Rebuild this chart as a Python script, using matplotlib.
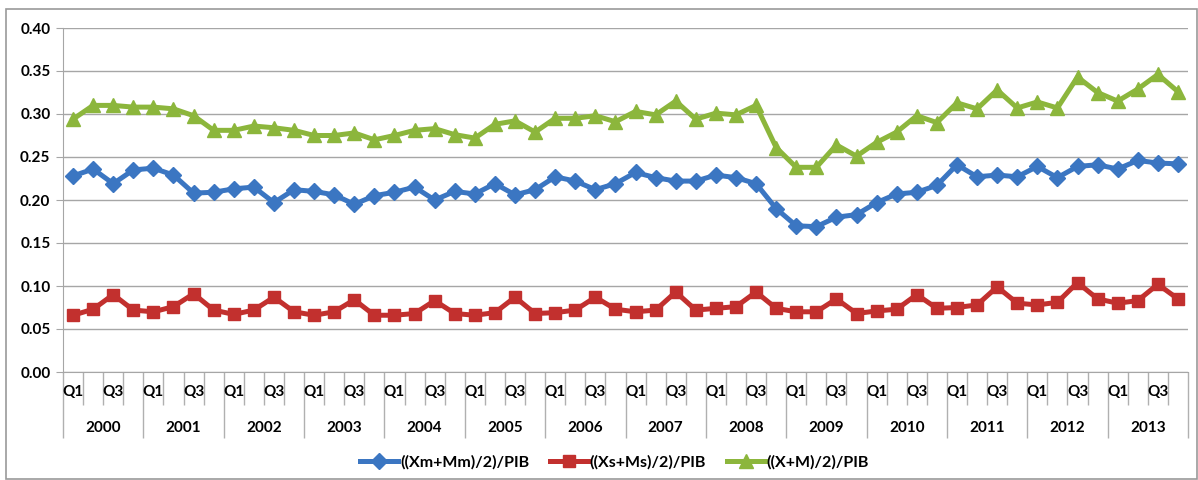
import matplotlib
matplotlib.use("Agg")
import matplotlib.pyplot as plt
from matplotlib.patches import Rectangle
from matplotlib.transforms import blended_transform_factory
import numpy as np

years = ["2000", "2001", "2002", "2003", "2004", "2005", "2006", "2007",
         "2008", "2009", "2010", "2011", "2012", "2013"]
quarters = ["Q1", "Q2", "Q3", "Q4"]
shown_quarters = ["Q1", "Q3"]

goods = [0.228, 0.236, 0.219, 0.235, 0.237, 0.229, 0.208, 0.209,
         0.213, 0.215, 0.197, 0.212, 0.210, 0.206, 0.195, 0.205,
         0.209, 0.215, 0.200, 0.210, 0.207, 0.219, 0.206, 0.212,
         0.227, 0.222, 0.212, 0.219, 0.232, 0.226, 0.222, 0.222,
         0.229, 0.226, 0.219, 0.190, 0.170, 0.169, 0.180, 0.183,
         0.197, 0.207, 0.209, 0.217, 0.241, 0.227, 0.229, 0.227,
         0.239, 0.226, 0.239, 0.241, 0.236, 0.246, 0.243, 0.242]

services = [0.066, 0.073, 0.090, 0.072, 0.070, 0.076, 0.091, 0.072,
            0.067, 0.072, 0.087, 0.070, 0.066, 0.070, 0.084, 0.066,
            0.066, 0.068, 0.083, 0.068, 0.066, 0.069, 0.087, 0.068,
            0.069, 0.072, 0.087, 0.073, 0.070, 0.072, 0.093, 0.072,
            0.074, 0.076, 0.093, 0.074, 0.070, 0.070, 0.085, 0.068,
            0.071, 0.073, 0.090, 0.074, 0.075, 0.078, 0.099, 0.080,
            0.078, 0.081, 0.104, 0.085, 0.080, 0.083, 0.102, 0.085]

total = [0.294, 0.310, 0.310, 0.308, 0.308, 0.306, 0.298, 0.281,
         0.281, 0.286, 0.284, 0.281, 0.275, 0.275, 0.278, 0.270,
         0.275, 0.281, 0.283, 0.276, 0.272, 0.288, 0.292, 0.279,
         0.295, 0.295, 0.298, 0.291, 0.303, 0.299, 0.315, 0.294,
         0.301, 0.299, 0.310, 0.261, 0.238, 0.238, 0.264, 0.251,
         0.267, 0.279, 0.298, 0.290, 0.313, 0.306, 0.328, 0.307,
         0.314, 0.307, 0.343, 0.325, 0.315, 0.329, 0.346, 0.326]

series_labels = ["((Xm+Mm)/2)/PIB", "((Xs+Ms)/2)/PIB", "((X+M)/2)/PIB"]
colors = ["#3B76C2", "#C2302E", "#8CB63C"]
markers = ["D", "s", "^"]
msizes = [8.5, 9, 10.5]

W, H = 1198, 480
fig = plt.figure(figsize=(W / 100, H / 100), dpi=100)
fig.patches.append(Rectangle((6 / W, 1 / H), (W - 7) / W, (H - 10) / H,
                             transform=fig.transFigure, fill=False,
                             edgecolor="#9a9a9a", linewidth=1.2))

left, right, top, bottom = 63, 1188, 28, 372
ax = fig.add_axes([left / W, 1 - bottom / H, (right - left) / W, (bottom - top) / H])

fontname = "Lato"
fs = 11
n = len(years) * len(quarters)
x = np.arange(n)
for vals, lab, c, m, ms in zip([goods, services, total], series_labels, colors, markers, msizes):
    ax.plot(x, vals, color=c, linewidth=3.6, marker=m, markersize=ms,
            markerfacecolor=c, markeredgecolor=c, label=lab, zorder=3)

ax.set_xlim(-0.5, n - 0.5)
ax.set_ylim(0, 0.40)
ax.set_yticks(np.arange(0, 0.401, 0.05))
ax.set_yticklabels([f"{v:.2f}" for v in np.arange(0, 0.401, 0.05)],
                   fontsize=fs, fontweight="bold", fontname=fontname)
ax.grid(axis="y", color="#a6a6a6", linewidth=1.0)
ax.set_axisbelow(True)
for s in ["top", "right"]:
    ax.spines[s].set_visible(False)
ax.spines["left"].set_color("#a6a6a6")
ax.spines["bottom"].set_color("#a6a6a6")
ax.tick_params(axis="y", length=5, color="#a6a6a6", pad=4)

# category ticks
ax.set_xticks(np.arange(-0.5, n, 4))
ax.set_xticks(np.arange(-0.5, n, 1), minor=True)
ax.set_xticklabels([])
ax.tick_params(axis="x", which="major", length=66 * 0.72, color="#b0b0b0", width=1)
ax.tick_params(axis="x", which="minor", length=33 * 0.72, color="#b0b0b0", width=1)

trans = blended_transform_factory(ax.transData, fig.transFigure)
for yi, yr in enumerate(years):
    for qi, q in enumerate(quarters):
        if q in shown_quarters:
            ax.text(yi * 4 + qi, 1 - 392 / H, q, transform=trans, ha="center", va="center",
                    fontsize=fs, fontweight="bold", fontname=fontname)
    ax.text(yi * 4 + 1.5, 1 - 428 / H, yr, transform=trans, ha="center", va="center",
            fontsize=fs, fontweight="bold", fontname=fontname)

leg = fig.legend(loc="center", bbox_to_anchor=(0.513, 1 - 462 / H), ncol=3, frameon=False,
                 prop={"family": fontname, "weight": "bold", "size": 11.5},
                 handlelength=2.4, columnspacing=1.3, handletextpad=0.1)

fig.savefig("out.png", dpi=100)
